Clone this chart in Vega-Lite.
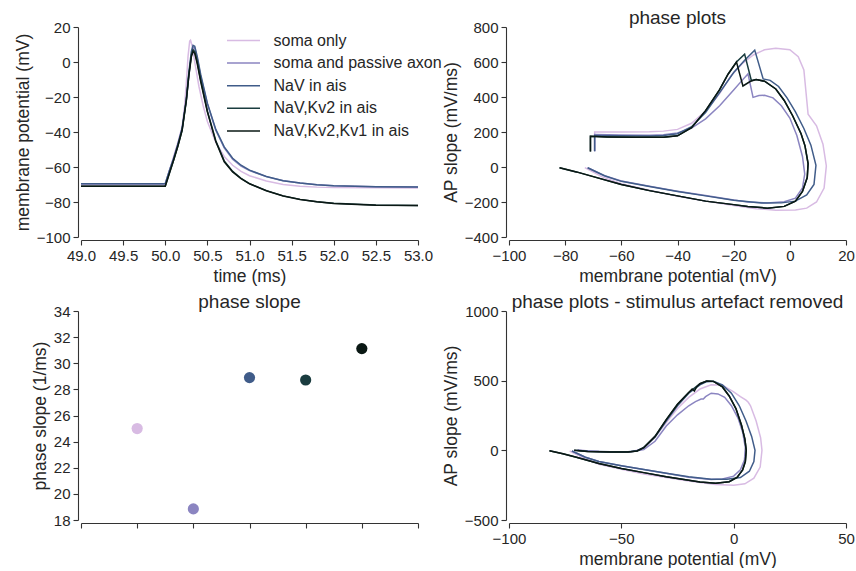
{
"$schema": "https://vega.github.io/schema/vega-lite/v6.json",
"background": "white",
"padding": {"left": 14, "top": 9, "right": 0, "bottom": 0},
"bounds": "flush",
"columns": 2,
"spacing": {"row": 74, "column": 91},
"config": {
 "font": "Liberation Sans",
 "view": {"stroke": null},
 "axis": {"grid": false, "domainColor": "#333333", "tickColor": "#333333", "labelColor": "#262626", "titleColor": "#262626", "labelFontSize": 15, "titleFontSize": 17.5, "titleFontWeight": "normal", "tickSize": 5, "offset": 3, "labelPadding": 3, "titlePadding": 4, "labelFont": "Liberation Sans", "titleFont": "Liberation Sans", "domainWidth": 1.1, "tickWidth": 1.1, "labelOverlap": false, "labelFlush": false},
 "title": {"fontSize": 19, "fontWeight": "normal", "color": "#262626", "font": "Liberation Sans", "offset": -8},
 "legend": {"labelFontSize": 16, "labelColor": "#262626", "labelFont": "Liberation Sans", "labelLimit": 400, "symbolType": "M-1.5,0H1.5", "symbolStrokeWidth": 1.8, "symbolSize": 484, "labelOffset": 18, "rowPadding": 2.6, "padding": 0},
 "line": {"strokeWidth": 1.5}
},
"datasets": {
"ts": [
{"s":"soma only","x":49,"y":-70},{"s":"soma only","x":50,"y":-70},{"s":"soma only","x":50.05,"y":-62},{"s":"soma only","x":50.1,"y":-54},{"s":"soma only","x":50.15,"y":-46},{"s":"soma only","x":50.2,"y":-37},{"s":"soma only","x":50.23,"y":-25},{"s":"soma only","x":50.25,"y":-12},{"s":"soma only","x":50.27,"y":3},{"s":"soma only","x":50.29,"y":12},{"s":"soma only","x":50.3,"y":12.5},{"s":"soma only","x":50.32,"y":9},{"s":"soma only","x":50.35,"y":0},{"s":"soma only","x":50.4,"y":-14},{"s":"soma only","x":50.45,"y":-25},{"s":"soma only","x":50.5,"y":-34},{"s":"soma only","x":50.6,"y":-46},{"s":"soma only","x":50.7,"y":-54},{"s":"soma only","x":50.8,"y":-59},{"s":"soma only","x":50.9,"y":-62.5},{"s":"soma only","x":51,"y":-65},{"s":"soma only","x":51.2,"y":-68},{"s":"soma only","x":51.4,"y":-70},{"s":"soma only","x":51.6,"y":-71},{"s":"soma only","x":51.8,"y":-71.5},{"s":"soma only","x":52,"y":-71.7},{"s":"soma only","x":52.5,"y":-71.9},{"s":"soma only","x":53,"y":-72},
{"s":"soma and passive axon","x":49,"y":-69.5},{"s":"soma and passive axon","x":50,"y":-69.5},{"s":"soma and passive axon","x":50.05,"y":-62},{"s":"soma and passive axon","x":50.1,"y":-55},{"s":"soma and passive axon","x":50.15,"y":-47},{"s":"soma and passive axon","x":50.2,"y":-38},{"s":"soma and passive axon","x":50.25,"y":-22},{"s":"soma and passive axon","x":50.28,"y":-8},{"s":"soma and passive axon","x":50.31,"y":4},{"s":"soma and passive axon","x":50.33,"y":8.5},{"s":"soma and passive axon","x":50.35,"y":8},{"s":"soma and passive axon","x":50.38,"y":2},{"s":"soma and passive axon","x":50.42,"y":-8},{"s":"soma and passive axon","x":50.5,"y":-24},{"s":"soma and passive axon","x":50.6,"y":-39},{"s":"soma and passive axon","x":50.7,"y":-49},{"s":"soma and passive axon","x":50.8,"y":-55.5},{"s":"soma and passive axon","x":50.9,"y":-59.5},{"s":"soma and passive axon","x":51,"y":-62},{"s":"soma and passive axon","x":51.2,"y":-65.5},{"s":"soma and passive axon","x":51.4,"y":-67.8},{"s":"soma and passive axon","x":51.6,"y":-69.2},{"s":"soma and passive axon","x":51.8,"y":-70.1},{"s":"soma and passive axon","x":52,"y":-70.7},{"s":"soma and passive axon","x":52.5,"y":-71.3},{"s":"soma and passive axon","x":53,"y":-71.5},
{"s":"NaV in ais","x":49,"y":-69.5},{"s":"NaV in ais","x":50,"y":-69.5},{"s":"NaV in ais","x":50.05,"y":-62},{"s":"NaV in ais","x":50.1,"y":-55},{"s":"NaV in ais","x":50.15,"y":-47},{"s":"NaV in ais","x":50.2,"y":-38},{"s":"NaV in ais","x":50.25,"y":-21},{"s":"NaV in ais","x":50.28,"y":-6},{"s":"NaV in ais","x":50.31,"y":6},{"s":"NaV in ais","x":50.33,"y":9.5},{"s":"NaV in ais","x":50.35,"y":9},{"s":"NaV in ais","x":50.38,"y":3},{"s":"NaV in ais","x":50.42,"y":-7},{"s":"NaV in ais","x":50.5,"y":-23.5},{"s":"NaV in ais","x":50.6,"y":-38.5},{"s":"NaV in ais","x":50.7,"y":-48.5},{"s":"NaV in ais","x":50.8,"y":-55},{"s":"NaV in ais","x":50.9,"y":-59},{"s":"NaV in ais","x":51,"y":-61.8},{"s":"NaV in ais","x":51.2,"y":-65.4},{"s":"NaV in ais","x":51.4,"y":-67.8},{"s":"NaV in ais","x":51.6,"y":-69.2},{"s":"NaV in ais","x":51.8,"y":-70.1},{"s":"NaV in ais","x":52,"y":-70.7},{"s":"NaV in ais","x":52.5,"y":-71.3},{"s":"NaV in ais","x":53,"y":-71.5},
{"s":"NaV,Kv2 in ais","x":49,"y":-71},{"s":"NaV,Kv2 in ais","x":50,"y":-71},{"s":"NaV,Kv2 in ais","x":50.05,"y":-63.5},{"s":"NaV,Kv2 in ais","x":50.1,"y":-56},{"s":"NaV,Kv2 in ais","x":50.15,"y":-48},{"s":"NaV,Kv2 in ais","x":50.2,"y":-39},{"s":"NaV,Kv2 in ais","x":50.25,"y":-22},{"s":"NaV,Kv2 in ais","x":50.28,"y":-7},{"s":"NaV,Kv2 in ais","x":50.31,"y":4},{"s":"NaV,Kv2 in ais","x":50.33,"y":7},{"s":"NaV,Kv2 in ais","x":50.35,"y":6},{"s":"NaV,Kv2 in ais","x":50.38,"y":0},{"s":"NaV,Kv2 in ais","x":50.42,"y":-10},{"s":"NaV,Kv2 in ais","x":50.5,"y":-28},{"s":"NaV,Kv2 in ais","x":50.6,"y":-45},{"s":"NaV,Kv2 in ais","x":50.7,"y":-56.5},{"s":"NaV,Kv2 in ais","x":50.8,"y":-62.5},{"s":"NaV,Kv2 in ais","x":50.9,"y":-66.5},{"s":"NaV,Kv2 in ais","x":51,"y":-69.5},{"s":"NaV,Kv2 in ais","x":51.2,"y":-73.5},{"s":"NaV,Kv2 in ais","x":51.4,"y":-76.5},{"s":"NaV,Kv2 in ais","x":51.6,"y":-78.5},{"s":"NaV,Kv2 in ais","x":51.8,"y":-79.8},{"s":"NaV,Kv2 in ais","x":52,"y":-80.7},{"s":"NaV,Kv2 in ais","x":52.5,"y":-81.7},{"s":"NaV,Kv2 in ais","x":53,"y":-82},
{"s":"NaV,Kv2,Kv1 in ais","x":49,"y":-71},{"s":"NaV,Kv2,Kv1 in ais","x":50,"y":-71},{"s":"NaV,Kv2,Kv1 in ais","x":50.05,"y":-63.5},{"s":"NaV,Kv2,Kv1 in ais","x":50.1,"y":-56},{"s":"NaV,Kv2,Kv1 in ais","x":50.15,"y":-48},{"s":"NaV,Kv2,Kv1 in ais","x":50.2,"y":-39},{"s":"NaV,Kv2,Kv1 in ais","x":50.25,"y":-22},{"s":"NaV,Kv2,Kv1 in ais","x":50.28,"y":-8},{"s":"NaV,Kv2,Kv1 in ais","x":50.31,"y":3},{"s":"NaV,Kv2,Kv1 in ais","x":50.33,"y":6},{"s":"NaV,Kv2,Kv1 in ais","x":50.35,"y":5},{"s":"NaV,Kv2,Kv1 in ais","x":50.38,"y":-1},{"s":"NaV,Kv2,Kv1 in ais","x":50.42,"y":-11},{"s":"NaV,Kv2,Kv1 in ais","x":50.5,"y":-28.5},{"s":"NaV,Kv2,Kv1 in ais","x":50.6,"y":-45.5},{"s":"NaV,Kv2,Kv1 in ais","x":50.7,"y":-57},{"s":"NaV,Kv2,Kv1 in ais","x":50.8,"y":-62.8},{"s":"NaV,Kv2,Kv1 in ais","x":50.9,"y":-66.7},{"s":"NaV,Kv2,Kv1 in ais","x":51,"y":-69.6},{"s":"NaV,Kv2,Kv1 in ais","x":51.2,"y":-73.6},{"s":"NaV,Kv2,Kv1 in ais","x":51.4,"y":-76.6},{"s":"NaV,Kv2,Kv1 in ais","x":51.6,"y":-78.6},{"s":"NaV,Kv2,Kv1 in ais","x":51.8,"y":-79.9},{"s":"NaV,Kv2,Kv1 in ais","x":52,"y":-80.8},{"s":"NaV,Kv2,Kv1 in ais","x":52.5,"y":-81.8},{"s":"NaV,Kv2,Kv1 in ais","x":53,"y":-82}
],
"pp": [
{"s":"soma only","x":-69.5,"y":90},{"s":"soma only","x":-69.5,"y":200},{"s":"soma only","x":-60,"y":200},{"s":"soma only","x":-50,"y":201},{"s":"soma only","x":-45,"y":205},{"s":"soma only","x":-40,"y":215},{"s":"soma only","x":-35,"y":250},{"s":"soma only","x":-30,"y":320},{"s":"soma only","x":-25,"y":420},{"s":"soma only","x":-21,"y":520},{"s":"soma only","x":-17,"y":590},{"s":"soma only","x":-13,"y":640},{"s":"soma only","x":-9,"y":670},{"s":"soma only","x":-5,"y":678},{"s":"soma only","x":0,"y":670},{"s":"soma only","x":3,"y":630},{"s":"soma only","x":5,"y":555},{"s":"soma only","x":5.8,"y":420},{"s":"soma only","x":6.5,"y":302},{"s":"soma only","x":9.5,"y":235},{"s":"soma only","x":11.8,"y":130},{"s":"soma only","x":13,"y":6},{"s":"soma only","x":12.2,"y":-120},{"s":"soma only","x":9.5,"y":-200},{"s":"soma only","x":6,"y":-235},{"s":"soma only","x":2,"y":-246},{"s":"soma only","x":-5,"y":-247},{"s":"soma only","x":-12,"y":-238},{"s":"soma only","x":-20,"y":-220},{"s":"soma only","x":-30,"y":-195},{"s":"soma only","x":-40,"y":-167},{"s":"soma only","x":-50,"y":-133},{"s":"soma only","x":-60,"y":-96},{"s":"soma only","x":-67,"y":-55},{"s":"soma only","x":-73,"y":-4},
{"s":"soma and passive axon","x":-69.5,"y":90},{"s":"soma and passive axon","x":-69.5,"y":185},{"s":"soma and passive axon","x":-60,"y":183},{"s":"soma and passive axon","x":-50,"y":182},{"s":"soma and passive axon","x":-45,"y":185},{"s":"soma and passive axon","x":-40,"y":195},{"s":"soma and passive axon","x":-35,"y":222},{"s":"soma and passive axon","x":-30,"y":275},{"s":"soma and passive axon","x":-25,"y":350},{"s":"soma and passive axon","x":-20,"y":440},{"s":"soma and passive axon","x":-17,"y":495},{"s":"soma and passive axon","x":-14.9,"y":532},{"s":"soma and passive axon","x":-13.1,"y":398},{"s":"soma and passive axon","x":-11,"y":408},{"s":"soma and passive axon","x":-9,"y":410},{"s":"soma and passive axon","x":-6,"y":395},{"s":"soma and passive axon","x":-3,"y":350},{"s":"soma and passive axon","x":0,"y":280},{"s":"soma and passive axon","x":2.5,"y":180},{"s":"soma and passive axon","x":4.5,"y":60},{"s":"soma and passive axon","x":5.3,"y":-40},{"s":"soma and passive axon","x":4.5,"y":-120},{"s":"soma and passive axon","x":2,"y":-178},{"s":"soma and passive axon","x":-2,"y":-198},{"s":"soma and passive axon","x":-8,"y":-205},{"s":"soma and passive axon","x":-15,"y":-200},{"s":"soma and passive axon","x":-20,"y":-188},{"s":"soma and passive axon","x":-30,"y":-163},{"s":"soma and passive axon","x":-40,"y":-138},{"s":"soma and passive axon","x":-50,"y":-110},{"s":"soma and passive axon","x":-60,"y":-80},{"s":"soma and passive axon","x":-66,"y":-50},{"s":"soma and passive axon","x":-72,"y":-4},
{"s":"NaV in ais","x":-69.5,"y":90},{"s":"NaV in ais","x":-69.5,"y":180},{"s":"NaV in ais","x":-60,"y":178},{"s":"NaV in ais","x":-50,"y":177},{"s":"NaV in ais","x":-45,"y":180},{"s":"NaV in ais","x":-40,"y":190},{"s":"NaV in ais","x":-35,"y":230},{"s":"NaV in ais","x":-30,"y":312},{"s":"NaV in ais","x":-25,"y":425},{"s":"NaV in ais","x":-20,"y":540},{"s":"NaV in ais","x":-16,"y":612},{"s":"NaV in ais","x":-12.5,"y":668},{"s":"NaV in ais","x":-9.5,"y":503},{"s":"NaV in ais","x":-7,"y":495},{"s":"NaV in ais","x":-4,"y":460},{"s":"NaV in ais","x":-1,"y":395},{"s":"NaV in ais","x":2,"y":315},{"s":"NaV in ais","x":5,"y":220},{"s":"NaV in ais","x":7.5,"y":125},{"s":"NaV in ais","x":9.3,"y":10},{"s":"NaV in ais","x":8.6,"y":-100},{"s":"NaV in ais","x":6,"y":-160},{"s":"NaV in ais","x":2,"y":-195},{"s":"NaV in ais","x":-3,"y":-205},{"s":"NaV in ais","x":-10,"y":-206},{"s":"NaV in ais","x":-20,"y":-190},{"s":"NaV in ais","x":-30,"y":-165},{"s":"NaV in ais","x":-40,"y":-140},{"s":"NaV in ais","x":-50,"y":-112},{"s":"NaV in ais","x":-60,"y":-82},{"s":"NaV in ais","x":-66,"y":-50},{"s":"NaV in ais","x":-72,"y":-4},
{"s":"NaV,Kv2 in ais","x":-71,"y":88},{"s":"NaV,Kv2 in ais","x":-71,"y":175},{"s":"NaV,Kv2 in ais","x":-65,"y":172},{"s":"NaV,Kv2 in ais","x":-55,"y":170},{"s":"NaV,Kv2 in ais","x":-45,"y":170},{"s":"NaV,Kv2 in ais","x":-40,"y":178},{"s":"NaV,Kv2 in ais","x":-35,"y":225},{"s":"NaV,Kv2 in ais","x":-30,"y":322},{"s":"NaV,Kv2 in ais","x":-25,"y":442},{"s":"NaV,Kv2 in ais","x":-22,"y":530},{"s":"NaV,Kv2 in ais","x":-19,"y":600},{"s":"NaV,Kv2 in ais","x":-16.1,"y":645},{"s":"NaV,Kv2 in ais","x":-13.7,"y":494},{"s":"NaV,Kv2 in ais","x":-12,"y":500},{"s":"NaV,Kv2 in ais","x":-9,"y":490},{"s":"NaV,Kv2 in ais","x":-5,"y":446},{"s":"NaV,Kv2 in ais","x":-2,"y":380},{"s":"NaV,Kv2 in ais","x":1,"y":293},{"s":"NaV,Kv2 in ais","x":4,"y":190},{"s":"NaV,Kv2 in ais","x":5.4,"y":121},{"s":"NaV,Kv2 in ais","x":6.5,"y":20},{"s":"NaV,Kv2 in ais","x":6.2,"y":-60},{"s":"NaV,Kv2 in ais","x":4.5,"y":-140},{"s":"NaV,Kv2 in ais","x":2,"y":-195},{"s":"NaV,Kv2 in ais","x":-2,"y":-225},{"s":"NaV,Kv2 in ais","x":-8,"y":-235},{"s":"NaV,Kv2 in ais","x":-15,"y":-226},{"s":"NaV,Kv2 in ais","x":-20,"y":-215},{"s":"NaV,Kv2 in ais","x":-30,"y":-195},{"s":"NaV,Kv2 in ais","x":-40,"y":-165},{"s":"NaV,Kv2 in ais","x":-50,"y":-135},{"s":"NaV,Kv2 in ais","x":-60,"y":-100},{"s":"NaV,Kv2 in ais","x":-70,"y":-55},{"s":"NaV,Kv2 in ais","x":-76,"y":-28},{"s":"NaV,Kv2 in ais","x":-82,"y":-4},
{"s":"NaV,Kv2,Kv1 in ais","x":-71,"y":88},{"s":"NaV,Kv2,Kv1 in ais","x":-71,"y":175},{"s":"NaV,Kv2,Kv1 in ais","x":-65,"y":172},{"s":"NaV,Kv2,Kv1 in ais","x":-55,"y":170},{"s":"NaV,Kv2,Kv1 in ais","x":-45,"y":170},{"s":"NaV,Kv2,Kv1 in ais","x":-40,"y":178},{"s":"NaV,Kv2,Kv1 in ais","x":-35,"y":225},{"s":"NaV,Kv2,Kv1 in ais","x":-30,"y":322},{"s":"NaV,Kv2,Kv1 in ais","x":-25,"y":442},{"s":"NaV,Kv2,Kv1 in ais","x":-22,"y":530},{"s":"NaV,Kv2,Kv1 in ais","x":-19,"y":600},{"s":"NaV,Kv2,Kv1 in ais","x":-16.7,"y":463},{"s":"NaV,Kv2,Kv1 in ais","x":-14,"y":490},{"s":"NaV,Kv2,Kv1 in ais","x":-12,"y":500},{"s":"NaV,Kv2,Kv1 in ais","x":-9,"y":490},{"s":"NaV,Kv2,Kv1 in ais","x":-5,"y":446},{"s":"NaV,Kv2,Kv1 in ais","x":-2,"y":380},{"s":"NaV,Kv2,Kv1 in ais","x":1,"y":293},{"s":"NaV,Kv2,Kv1 in ais","x":4,"y":190},{"s":"NaV,Kv2,Kv1 in ais","x":5.4,"y":121},{"s":"NaV,Kv2,Kv1 in ais","x":6.5,"y":20},{"s":"NaV,Kv2,Kv1 in ais","x":6.2,"y":-60},{"s":"NaV,Kv2,Kv1 in ais","x":4.5,"y":-140},{"s":"NaV,Kv2,Kv1 in ais","x":2,"y":-195},{"s":"NaV,Kv2,Kv1 in ais","x":-2,"y":-225},{"s":"NaV,Kv2,Kv1 in ais","x":-8,"y":-235},{"s":"NaV,Kv2,Kv1 in ais","x":-15,"y":-226},{"s":"NaV,Kv2,Kv1 in ais","x":-20,"y":-215},{"s":"NaV,Kv2,Kv1 in ais","x":-30,"y":-195},{"s":"NaV,Kv2,Kv1 in ais","x":-40,"y":-165},{"s":"NaV,Kv2,Kv1 in ais","x":-50,"y":-135},{"s":"NaV,Kv2,Kv1 in ais","x":-60,"y":-100},{"s":"NaV,Kv2,Kv1 in ais","x":-70,"y":-55},{"s":"NaV,Kv2,Kv1 in ais","x":-76,"y":-28},{"s":"NaV,Kv2,Kv1 in ais","x":-82,"y":-4}
],
"pr": [
{"s":"soma only","x":-69.5,"y":0},{"s":"soma only","x":-60,"y":-8},{"s":"soma only","x":-50,"y":-10},{"s":"soma only","x":-45,"y":-8},{"s":"soma only","x":-40,"y":15},{"s":"soma only","x":-35,"y":95},{"s":"soma only","x":-30,"y":200},{"s":"soma only","x":-25,"y":300},{"s":"soma only","x":-20,"y":380},{"s":"soma only","x":-15,"y":440},{"s":"soma only","x":-10,"y":470},{"s":"soma only","x":-5,"y":468},{"s":"soma only","x":0,"y":420},{"s":"soma only","x":3,"y":385},{"s":"soma only","x":5.5,"y":360},{"s":"soma only","x":6.5,"y":345},{"s":"soma only","x":7.5,"y":320},{"s":"soma only","x":10,"y":210},{"s":"soma only","x":12,"y":90},{"s":"soma only","x":12.6,"y":0},{"s":"soma only","x":11.8,"y":-120},{"s":"soma only","x":9,"y":-200},{"s":"soma only","x":5,"y":-240},{"s":"soma only","x":0,"y":-250},{"s":"soma only","x":-8,"y":-245},{"s":"soma only","x":-20,"y":-220},{"s":"soma only","x":-30,"y":-195},{"s":"soma only","x":-40,"y":-170},{"s":"soma only","x":-50,"y":-135},{"s":"soma only","x":-60,"y":-100},{"s":"soma only","x":-66,"y":-60},{"s":"soma only","x":-73,"y":-5},
{"s":"soma and passive axon","x":-69.5,"y":0},{"s":"soma and passive axon","x":-60,"y":-8},{"s":"soma and passive axon","x":-50,"y":-10},{"s":"soma and passive axon","x":-45,"y":-8},{"s":"soma and passive axon","x":-40,"y":5},{"s":"soma and passive axon","x":-35,"y":65},{"s":"soma and passive axon","x":-30,"y":175},{"s":"soma and passive axon","x":-25,"y":255},{"s":"soma and passive axon","x":-20,"y":320},{"s":"soma and passive axon","x":-17,"y":350},{"s":"soma and passive axon","x":-14.5,"y":368},{"s":"soma and passive axon","x":-13.5,"y":368},{"s":"soma and passive axon","x":-12.5,"y":385},{"s":"soma and passive axon","x":-10,"y":410},{"s":"soma and passive axon","x":-7,"y":405},{"s":"soma and passive axon","x":-4,"y":380},{"s":"soma and passive axon","x":-1,"y":320},{"s":"soma and passive axon","x":2,"y":230},{"s":"soma and passive axon","x":4,"y":130},{"s":"soma and passive axon","x":5.2,"y":20},{"s":"soma and passive axon","x":4.8,"y":-70},{"s":"soma and passive axon","x":3,"y":-140},{"s":"soma and passive axon","x":0,"y":-185},{"s":"soma and passive axon","x":-5,"y":-205},{"s":"soma and passive axon","x":-10,"y":-210},{"s":"soma and passive axon","x":-20,"y":-193},{"s":"soma and passive axon","x":-30,"y":-165},{"s":"soma and passive axon","x":-40,"y":-138},{"s":"soma and passive axon","x":-50,"y":-110},{"s":"soma and passive axon","x":-60,"y":-80},{"s":"soma and passive axon","x":-66,"y":-50},{"s":"soma and passive axon","x":-72,"y":-5},
{"s":"NaV in ais","x":-69.5,"y":0},{"s":"NaV in ais","x":-65,"y":-6},{"s":"NaV in ais","x":-55,"y":-10},{"s":"NaV in ais","x":-47,"y":-10},{"s":"NaV in ais","x":-43,"y":-3},{"s":"NaV in ais","x":-40,"y":20},{"s":"NaV in ais","x":-35,"y":95},{"s":"NaV in ais","x":-30,"y":210},{"s":"NaV in ais","x":-25,"y":320},{"s":"NaV in ais","x":-20,"y":410},{"s":"NaV in ais","x":-15,"y":470},{"s":"NaV in ais","x":-12,"y":493},{"s":"NaV in ais","x":-9,"y":495},{"s":"NaV in ais","x":-5,"y":470},{"s":"NaV in ais","x":-1,"y":410},{"s":"NaV in ais","x":2.5,"y":320},{"s":"NaV in ais","x":5.5,"y":210},{"s":"NaV in ais","x":8,"y":100},{"s":"NaV in ais","x":9.5,"y":0},{"s":"NaV in ais","x":9,"y":-80},{"s":"NaV in ais","x":7,"y":-150},{"s":"NaV in ais","x":3,"y":-195},{"s":"NaV in ais","x":-3,"y":-207},{"s":"NaV in ais","x":-10,"y":-207},{"s":"NaV in ais","x":-20,"y":-190},{"s":"NaV in ais","x":-30,"y":-165},{"s":"NaV in ais","x":-40,"y":-138},{"s":"NaV in ais","x":-50,"y":-110},{"s":"NaV in ais","x":-60,"y":-80},{"s":"NaV in ais","x":-66,"y":-50},{"s":"NaV in ais","x":-72,"y":-5},
{"s":"NaV,Kv2 in ais","x":-71,"y":0},{"s":"NaV,Kv2 in ais","x":-65,"y":-8},{"s":"NaV,Kv2 in ais","x":-55,"y":-12},{"s":"NaV,Kv2 in ais","x":-47,"y":-12},{"s":"NaV,Kv2 in ais","x":-43,"y":-5},{"s":"NaV,Kv2 in ais","x":-40,"y":20},{"s":"NaV,Kv2 in ais","x":-35,"y":100},{"s":"NaV,Kv2 in ais","x":-30,"y":220},{"s":"NaV,Kv2 in ais","x":-25,"y":330},{"s":"NaV,Kv2 in ais","x":-20,"y":415},{"s":"NaV,Kv2 in ais","x":-15,"y":478},{"s":"NaV,Kv2 in ais","x":-12,"y":498},{"s":"NaV,Kv2 in ais","x":-9,"y":495},{"s":"NaV,Kv2 in ais","x":-5,"y":455},{"s":"NaV,Kv2 in ais","x":-2,"y":390},{"s":"NaV,Kv2 in ais","x":1,"y":300},{"s":"NaV,Kv2 in ais","x":3.5,"y":180},{"s":"NaV,Kv2 in ais","x":5,"y":80},{"s":"NaV,Kv2 in ais","x":5.6,"y":0},{"s":"NaV,Kv2 in ais","x":5.2,"y":-80},{"s":"NaV,Kv2 in ais","x":4,"y":-140},{"s":"NaV,Kv2 in ais","x":1.5,"y":-195},{"s":"NaV,Kv2 in ais","x":-2,"y":-225},{"s":"NaV,Kv2 in ais","x":-8,"y":-237},{"s":"NaV,Kv2 in ais","x":-15,"y":-228},{"s":"NaV,Kv2 in ais","x":-20,"y":-215},{"s":"NaV,Kv2 in ais","x":-30,"y":-190},{"s":"NaV,Kv2 in ais","x":-40,"y":-160},{"s":"NaV,Kv2 in ais","x":-50,"y":-130},{"s":"NaV,Kv2 in ais","x":-60,"y":-95},{"s":"NaV,Kv2 in ais","x":-70,"y":-50},{"s":"NaV,Kv2 in ais","x":-76,"y":-25},{"s":"NaV,Kv2 in ais","x":-82,"y":-3},
{"s":"NaV,Kv2,Kv1 in ais","x":-71,"y":0},{"s":"NaV,Kv2,Kv1 in ais","x":-65,"y":-8},{"s":"NaV,Kv2,Kv1 in ais","x":-55,"y":-12},{"s":"NaV,Kv2,Kv1 in ais","x":-47,"y":-12},{"s":"NaV,Kv2,Kv1 in ais","x":-43,"y":-5},{"s":"NaV,Kv2,Kv1 in ais","x":-40,"y":20},{"s":"NaV,Kv2,Kv1 in ais","x":-35,"y":100},{"s":"NaV,Kv2,Kv1 in ais","x":-30,"y":220},{"s":"NaV,Kv2,Kv1 in ais","x":-25,"y":330},{"s":"NaV,Kv2,Kv1 in ais","x":-20,"y":415},{"s":"NaV,Kv2,Kv1 in ais","x":-18.5,"y":440},{"s":"NaV,Kv2,Kv1 in ais","x":-17.5,"y":425},{"s":"NaV,Kv2,Kv1 in ais","x":-16.5,"y":455},{"s":"NaV,Kv2,Kv1 in ais","x":-15,"y":478},{"s":"NaV,Kv2,Kv1 in ais","x":-12,"y":498},{"s":"NaV,Kv2,Kv1 in ais","x":-9,"y":495},{"s":"NaV,Kv2,Kv1 in ais","x":-5,"y":455},{"s":"NaV,Kv2,Kv1 in ais","x":-2,"y":390},{"s":"NaV,Kv2,Kv1 in ais","x":1,"y":300},{"s":"NaV,Kv2,Kv1 in ais","x":3.5,"y":180},{"s":"NaV,Kv2,Kv1 in ais","x":5,"y":80},{"s":"NaV,Kv2,Kv1 in ais","x":5.6,"y":0},{"s":"NaV,Kv2,Kv1 in ais","x":5.2,"y":-80},{"s":"NaV,Kv2,Kv1 in ais","x":4,"y":-140},{"s":"NaV,Kv2,Kv1 in ais","x":1.5,"y":-195},{"s":"NaV,Kv2,Kv1 in ais","x":-2,"y":-225},{"s":"NaV,Kv2,Kv1 in ais","x":-8,"y":-237},{"s":"NaV,Kv2,Kv1 in ais","x":-15,"y":-228},{"s":"NaV,Kv2,Kv1 in ais","x":-20,"y":-215},{"s":"NaV,Kv2,Kv1 in ais","x":-30,"y":-190},{"s":"NaV,Kv2,Kv1 in ais","x":-40,"y":-160},{"s":"NaV,Kv2,Kv1 in ais","x":-50,"y":-130},{"s":"NaV,Kv2,Kv1 in ais","x":-60,"y":-95},{"s":"NaV,Kv2,Kv1 in ais","x":-70,"y":-50},{"s":"NaV,Kv2,Kv1 in ais","x":-76,"y":-25},{"s":"NaV,Kv2,Kv1 in ais","x":-82,"y":-3}
],
"ps": [
{"s":"soma only","x":1,"y":25.0},{"s":"soma and passive axon","x":2,"y":18.85},{"s":"NaV in ais","x":3,"y":28.9},{"s":"NaV,Kv2 in ais","x":4,"y":28.72},{"s":"NaV,Kv2,Kv1 in ais","x":5,"y":31.12}
]
},
"resolve": {"legend": {"color": "independent"}},
"concat": [
{
 "width": 337, "height": 210,
 "data": {"name": "ts"},
 "mark": {"type": "line", "clip": true},
 "encoding": {
  "x": {"field": "x", "type": "quantitative", "scale": {"domain": [49, 53]}, "axis": {"values": [49, 49.5, 50, 50.5, 51, 51.5, 52, 52.5, 53], "format": ".1f", "title": "time (ms)"}},
  "y": {"field": "y", "type": "quantitative", "scale": {"domain": [-100, 20]}, "axis": {"values": [-100, -80, -60, -40, -20, 0, 20], "title": "membrane potential (mV)"}},
  "color": {"field": "s", "type": "nominal", "scale": {"domain": ["soma only", "soma and passive axon", "NaV in ais", "NaV,Kv2 in ais", "NaV,Kv2,Kv1 in ais"], "range": ["#d8bbe3", "#8b85c1", "#405c89", "#1a3c3f", "#0a1814"]}, "legend": {"title": null, "orient": "none", "legendX": 150.5, "legendY": 1.5}},
  "order": {"value": null}
 }
},
{
 "width": 337, "height": 210,
 "title": "phase plots",
 "data": {"name": "pp"},
 "mark": {"type": "line", "clip": true},
 "encoding": {
  "x": {"field": "x", "type": "quantitative", "scale": {"domain": [-100, 20]}, "axis": {"values": [-100, -80, -60, -40, -20, 0, 20], "title": "membrane potential (mV)"}},
  "y": {"field": "y", "type": "quantitative", "scale": {"domain": [-400, 800]}, "axis": {"values": [-400, -200, 0, 200, 400, 600, 800], "title": "AP slope (mV/ms)"}},
  "color": {"field": "s", "type": "nominal", "scale": {"domain": ["soma only", "soma and passive axon", "NaV in ais", "NaV,Kv2 in ais", "NaV,Kv2,Kv1 in ais"], "range": ["#d8bbe3", "#8b85c1", "#405c89", "#1a3c3f", "#0a1814"]}, "legend": null},
  "order": {"value": null}
 }
},
{
 "width": 337, "height": 209,
 "title": "phase slope",
 "data": {"name": "ps"},
 "mark": {"type": "point", "filled": true, "size": 125, "opacity": 1},
 "encoding": {
  "x": {"field": "x", "type": "quantitative", "scale": {"domain": [0, 6]}, "axis": {"values": [0, 1, 2, 3, 4, 5, 6], "labels": false, "title": null}},
  "y": {"field": "y", "type": "quantitative", "scale": {"domain": [18, 34]}, "axis": {"values": [18, 20, 22, 24, 26, 28, 30, 32, 34], "title": "phase slope (1/ms)"}},
  "color": {"field": "s", "type": "nominal", "scale": {"domain": ["soma only", "soma and passive axon", "NaV in ais", "NaV,Kv2 in ais", "NaV,Kv2,Kv1 in ais"], "range": ["#d8bbe3", "#8b85c1", "#405c89", "#1a3c3f", "#0a1814"]}, "legend": null}
 }
},
{
 "width": 337, "height": 209,
 "title": "phase plots - stimulus artefact removed",
 "data": {"name": "pr"},
 "mark": {"type": "line", "clip": true},
 "encoding": {
  "x": {"field": "x", "type": "quantitative", "scale": {"domain": [-100, 50]}, "axis": {"values": [-100, -50, 0, 50], "title": "membrane potential (mV)"}},
  "y": {"field": "y", "type": "quantitative", "scale": {"domain": [-500, 1000]}, "axis": {"values": [-500, 0, 500, 1000], "format": "d", "title": "AP slope (mV/ms)"}},
  "color": {"field": "s", "type": "nominal", "scale": {"domain": ["soma only", "soma and passive axon", "NaV in ais", "NaV,Kv2 in ais", "NaV,Kv2,Kv1 in ais"], "range": ["#d8bbe3", "#8b85c1", "#405c89", "#1a3c3f", "#0a1814"]}, "legend": null},
  "order": {"value": null}
 }
}
]
}
